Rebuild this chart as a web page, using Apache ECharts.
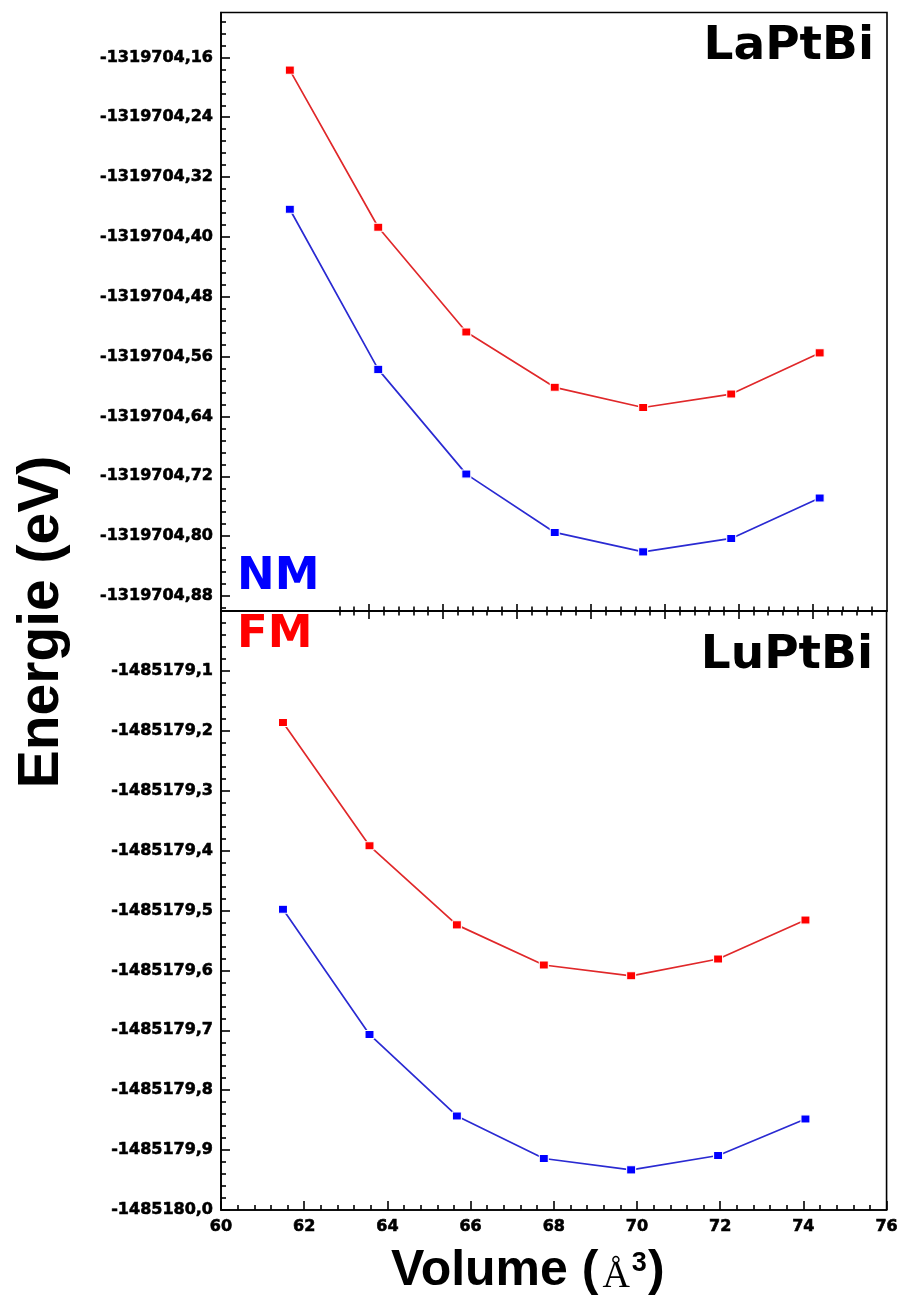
<!DOCTYPE html>
<html>
<head>
<meta charset="utf-8">
<script src="https://cdn.jsdelivr.net/npm/echarts@6/dist/echarts.min.js"></script>
<style>
  html, body { margin: 0; padding: 0; background: #fff; }
  #chart { width: 901px; height: 1295px; }
</style>
</head>
<body>
<div id="chart"></div>
<script>
// LaPtBi: total energy (eV) versus cell volume (Å^3)
const laVolume   = [71.86, 74.25, 76.63, 79.02, 81.41, 83.79, 86.18];
const laEnergyFM = [-1319704.177, -1319704.387, -1319704.527, -1319704.601, -1319704.628, -1319704.610, -1319704.555];
const laEnergyNM = [-1319704.363, -1319704.577, -1319704.717, -1319704.795, -1319704.821, -1319704.803, -1319704.749];

// LuPtBi: total energy (eV) versus cell volume (Å^3)
const luVolume   = [61.49, 63.57, 65.67, 67.76, 69.86, 71.95, 74.05];
const luEnergyFM = [-1485179.186, -1485179.392, -1485179.524, -1485179.591, -1485179.609, -1485179.581, -1485179.516];
const luEnergyNM = [-1485179.498, -1485179.707, -1485179.843, -1485179.914, -1485179.933, -1485179.909, -1485179.848];

// Tick labels
const laTicks = [-1319704.16, -1319704.24, -1319704.32, -1319704.40, -1319704.48,
                 -1319704.56, -1319704.64, -1319704.72, -1319704.80, -1319704.88];
const luTicks = [-1485179.1, -1485179.2, -1485179.3, -1485179.4, -1485179.5,
                 -1485179.6, -1485179.7, -1485179.8, -1485179.9, -1485180.0];
const volumeTicks = [60, 62, 64, 66, 68, 70, 72, 74, 76];
// unlabelled major ticks on the upper panel's volume axis
const laVolumeTicks = [74, 76, 78, 80, 82, 84, 86];

// minor tick positions (5 sub-intervals per major step)
const laMinorY = [];
for (let k = -1; k <= 48; k++) {
  if (k % 5 !== 0) laMinorY.push(Math.round((-1319704.88 + 0.016 * k) * 1000) / 1000);
}
const luMinorY = [];
for (let k = 1; k < 50; k++) {
  if (k % 5 !== 0) luMinorY.push(Math.round((-1485180 + 0.02 * k) * 100) / 100);
}
const laMinorX = [];
for (let m = 732; m <= 876; m += 4) {
  if (m % 20 !== 0) laMinorX.push(m / 10);
}
const luMinorX = [];
for (let m = 604; m < 760; m += 4) {
  if (m % 20 !== 0) luMinorX.push(m / 10);
}

const INK = '#000';
const tickFont = {
  fontFamily: 'DejaVu Sans', fontWeight: 'bold', fontSize: 16, color: INK,
  textBorderColor: INK, textBorderWidth: 0.6
};
const lineStyle = { color: INK, width: 1.6 };

function xAxisDef(gridIndex, position, min, max, ticks, len, showLine, labels) {
  return {
    type: 'value', gridIndex, position, min, max,
    axisLine: { show: showLine, onZero: false, lineStyle },
    axisTick: { show: true, inside: true, length: len, customValues: ticks, lineStyle },
    axisLabel: labels
      ? Object.assign({ show: true, customValues: labels, margin: 9, formatter: v => String(v) }, tickFont)
      : { show: false },
    splitLine: { show: false },
    minorTick: { show: false }
  };
}

function yAxisDef(gridIndex, min, max, ticks, len, showLine, labels, digits) {
  return {
    type: 'value', gridIndex, position: 'left', min, max,
    axisLine: { show: showLine, onZero: false, lineStyle },
    axisTick: { show: true, inside: true, length: len, customValues: ticks, lineStyle },
    axisLabel: labels
      ? Object.assign({ show: true, customValues: labels, margin: 8,
          formatter: v => v.toFixed(digits).replace('.', ',') }, tickFont)
      : { show: false },
    splitLine: { show: false },
    minorTick: { show: false }
  };
}

function curve(name, xs, ys, xi, yi, lineColor, markColor) {
  return {
    type: 'line', name, xAxisIndex: xi, yAxisIndex: yi,
    data: xs.map((x, i) => [x, ys[i]]),
    symbol: 'rect', symbolSize: [9, 8],
    lineStyle: { color: lineColor, width: 1.7 },
    itemStyle: { color: markColor, borderColor: '#fff', borderWidth: 1 },
    silent: true, animation: false
  };
}

const chart = echarts.init(document.getElementById('chart'));
chart.setOption({
  backgroundColor: '#fff',
  animation: false,
  grid: [
    { left: 221, right: 14, top: 12.5, height: 598.5, show: true, borderColor: INK, borderWidth: 1.6, backgroundColor: 'transparent' },
    { left: 221, right: 14, top: 611, bottom: 85, show: true, borderColor: INK, borderWidth: 1.6, backgroundColor: 'transparent' }
  ],
  xAxis: [
    xAxisDef(0, 'bottom', 70, 88, laVolumeTicks, 7, true, null),
    xAxisDef(0, 'bottom', 70, 88, laMinorX, 4.5, false, null),
    xAxisDef(1, 'top', 70, 88, laVolumeTicks, 8, false, null),
    xAxisDef(1, 'top', 70, 88, laMinorX, 4.5, false, null),
    xAxisDef(1, 'bottom', 60, 76, volumeTicks, 9, true, volumeTicks),
    xAxisDef(1, 'bottom', 60, 76, luMinorX, 5, false, null)
  ],
  yAxis: [
    yAxisDef(0, -1319704.90, -1319704.10, laTicks, 9, true, laTicks, 2),
    yAxisDef(0, -1319704.90, -1319704.10, laMinorY, 5, false, null, 2),
    yAxisDef(1, -1485180.0, -1485179.0, luTicks, 9, true, luTicks, 1),
    yAxisDef(1, -1485180.0, -1485179.0, luMinorY, 5, false, null, 1)
  ],
  series: [
    curve('FM', laVolume, laEnergyFM, 0, 0, '#e0282a', '#ff0000'),
    curve('NM', laVolume, laEnergyNM, 0, 0, '#2a2ad2', '#0000ff'),
    curve('FM', luVolume, luEnergyFM, 4, 2, '#e0282a', '#ff0000'),
    curve('NM', luVolume, luEnergyNM, 4, 2, '#2a2ad2', '#0000ff')
  ],
  graphic: [
    { type: 'text', x: 874, y: 47, silent: true,
      style: { text: 'LaPtBi', font: 'bold 47px "DejaVu Sans"', fill: INK, align: 'right', verticalAlign: 'middle' } },
    { type: 'text', x: 873, y: 656, silent: true,
      style: { text: 'LuPtBi', font: 'bold 47px "DejaVu Sans"', fill: INK, align: 'right', verticalAlign: 'middle' } },
    { type: 'text', x: 237, y: 577, silent: true,
      style: { text: 'NM', font: 'bold 45px "DejaVu Sans"', fill: '#0000ff', align: 'left', verticalAlign: 'middle' } },
    { type: 'text', x: 237, y: 635, silent: true,
      style: { text: 'FM', font: 'bold 45px "DejaVu Sans"', fill: '#ff0000', align: 'left', verticalAlign: 'middle' } },
    { type: 'text', x: 42, y: 622, rotation: Math.PI / 2, silent: true,
      style: { text: 'Energie (eV)', font: 'bold 57px "Liberation Sans"', fill: INK, align: 'center', verticalAlign: 'middle' } },
    { type: 'text', x: 391, y: 1268, silent: true,
      style: {
        text: '{a|Volume (}{b|Å}{c|3}{a|)}',
        align: 'left', verticalAlign: 'middle', fill: INK,
        rich: {
          a: { fontFamily: 'Liberation Sans', fontWeight: 'bold', fontSize: 50, lineHeight: 56, verticalAlign: 'bottom', fill: INK },
          b: { fontFamily: 'Liberation Serif', fontWeight: 'normal', fontSize: 38, lineHeight: 46, verticalAlign: 'bottom', padding: [0, 1, 0, 4], fill: INK },
          c: { fontFamily: 'Liberation Sans', fontWeight: 'bold', fontSize: 27, lineHeight: 30, verticalAlign: 'middle', padding: [0, 1, 8, 1], fill: INK }
        }
      } }
  ]
});
</script>
</body>
</html>
